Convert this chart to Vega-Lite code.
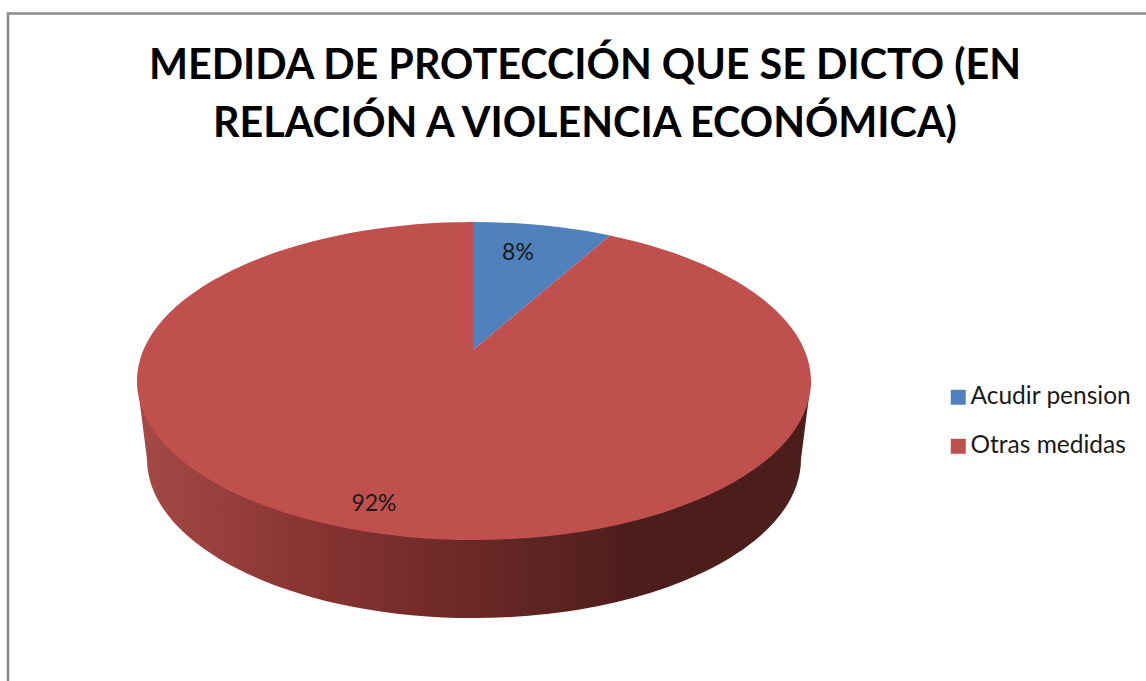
{
  "$schema": "https://vega.github.io/schema/vega-lite/v6.json",
  "width": 1146,
  "height": 681,
  "padding": 0,
  "autosize": "none",
  "background": "#ffffff",
  "view": {"stroke": null},
  "title": {
    "text": ["MEDIDA DE PROTECCIÓN QUE SE DICTO (EN", "RELACIÓN A VIOLENCIA ECONÓMICA)"],
    "font": "Lato", "fontSize": 41.3, "fontWeight": "bold", "color": "#000000",
    "lineHeight": 58.5, "anchor": "middle", "frame": "group", "dx": 12, "offset": -145.5
  },
  "data": {"values": [
    {"categoria": "Acudir pension", "valor": 8, "etiqueta": "8%"},
    {"categoria": "Otras medidas", "valor": 92, "etiqueta": "92%"}
  ]},
  "encoding": {
    "color": {"field": "categoria", "type": "nominal",
      "scale": {"domain": ["Acudir pension", "Otras medidas"], "range": ["#4f81bd", "#c0504d"]},
      "legend": {"title": null, "orient": "none", "legendX": 946, "legendY": 385, "symbolType": "square", "symbolSize": 225, "symbolStrokeWidth": 0, "labelFont": "Lato", "labelFontSize": 24.5, "labelColor": "#1a1a1a", "labelLimit": 300, "rowPadding": 24, "labelOffset": 0}}
  },
  "layer": [
    {
      "data": {"values": [{"elemento": "marco"}]},
      "mark": {"type": "point", "filled": false, "opacity": 1, "stroke": "#8a8a8a", "strokeWidth": 2.5, "size": 4,
        "shape": "M -565 341 L -565 -327 L 573 -327"},
      "encoding": {"color": {"value": null}}
    },
    {
      "transform": [{"filter": "datum.categoria === 'Otras medidas'"}],
      "mark": {"type": "point", "filled": true, "opacity": 1, "strokeWidth": 0, "size": 4,
        "shape": "M -436 40.5 L -426 118.5 A 327 159 0 0 0 228 118.5 L 238 40.5 Z"},
      "encoding": {"color": {"value": {"gradient": "linear", "x1": 0, "y1": 0, "x2": 1, "y2": 0,
          "stops": [{"offset": 0, "color": "#a54a46"}, {"offset": 0.24, "color": "#8a3533"}, {"offset": 0.5, "color": "#6a2826"}, {"offset": 0.75, "color": "#4b1d1b"}, {"offset": 1, "color": "#4b1d1b"}]}}}
    },
    {
      "transform": [{"filter": "datum.categoria === 'Acudir pension'"}],
      "mark": {"type": "point", "filled": true, "opacity": 1, "strokeWidth": 0, "size": 4,
        "shape": "M -100 9.5 L -100 -118.4993 A 337 159 0 0 1 37 -104.977 Z"}
    },
    {
      "transform": [{"filter": "datum.categoria === 'Otras medidas'"}],
      "mark": {"type": "point", "filled": true, "opacity": 1, "strokeWidth": 0, "size": 4,
        "shape": "M -100 9.5 L 37 -104.977 A 337 159 0 1 1 -100 -118.4993 Z"}
    },
    {
      "transform": [{"filter": "datum.categoria === 'Acudir pension'"}],
      "mark": {"type": "text", "font": "Lato", "fontSize": 23, "color": "#1a1a1a", "align": "center", "baseline": "middle", "dx": -55, "dy": -87.5},
      "encoding": {"text": {"field": "etiqueta"}, "color": {"value": "#1a1a1a"}}
    },
    {
      "transform": [{"filter": "datum.categoria === 'Otras medidas'"}],
      "mark": {"type": "text", "font": "Lato", "fontSize": 23, "color": "#1a1a1a", "align": "center", "baseline": "middle", "dx": -199, "dy": 163.5},
      "encoding": {"text": {"field": "etiqueta"}, "color": {"value": "#1a1a1a"}}
    }
  ]
}
